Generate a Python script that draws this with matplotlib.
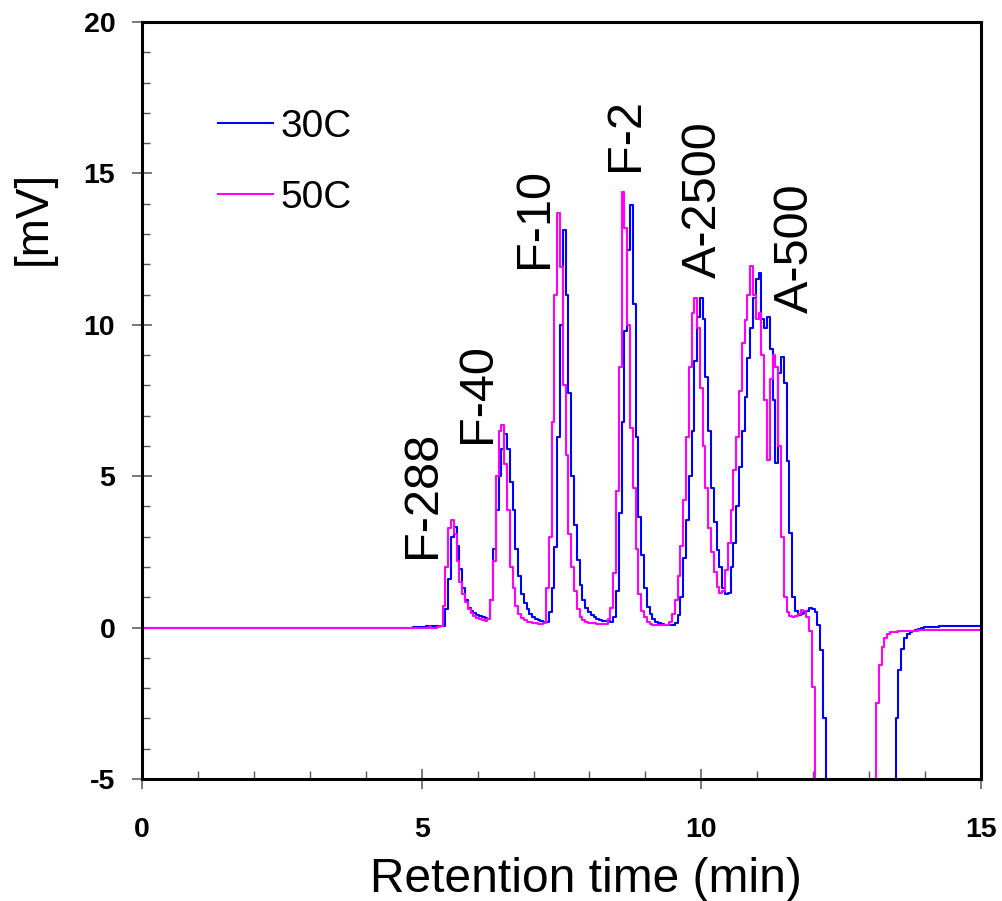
import numpy as np
import matplotlib.pyplot as plt
from matplotlib.ticker import MultipleLocator

plt.rcParams['font.family'] = ['Liberation Sans', 'DejaVu Sans']
plt.rcParams['axes.unicode_minus'] = False

# detector trace, sampled every 0.05 min from 5.00 min (signal in mV)
trace_start = 5.0
sample_step = 0.05

mv_30c = [
    0.03, 0.03, 0.04, 0.03, 0.04, 0.05, 0.05, 0.04, 0.06, 0.6,
    1.6, 3.0, 3.32, 2.7, 1.95, 1.3, 0.9, 0.66, 0.55, 0.47,
    0.41, 0.37, 0.34, 0.32, 0.3, 0.9, 2.6, 3.9, 5.0, 5.9,
    6.4, 5.9, 4.8, 3.9, 2.6, 1.7, 1.1, 0.8, 0.6, 0.45,
    0.36, 0.3, 0.26, 0.22, 0.2, 0.19, 0.5, 1.3, 2.66, 6.3,
    10.0, 13.13, 11.0, 7.75, 5.0, 3.4, 2.23, 1.4, 0.91, 0.65,
    0.5, 0.42, 0.35, 0.3, 0.25, 0.23, 0.22, 0.21, 0.2, 0.35,
    1.2, 3.8, 6.8, 9.8, 12.47, 13.95, 10.7, 6.3, 3.66, 2.4,
    1.3, 0.68, 0.45, 0.3, 0.19, 0.15, 0.12, 0.1, 0.09, 0.09,
    0.1, 0.15, 0.4, 1.0, 2.3, 3.55, 5.0, 6.5, 8.8, 10.26,
    10.88, 10.2, 8.28, 6.5, 4.6, 3.5, 2.56, 2.0, 1.3, 1.1,
    1.15, 2.0, 2.8, 4.0, 5.3, 6.5, 7.6, 8.9, 9.9, 10.9,
    11.5, 11.7, 10.2, 9.9, 10.26, 9.2, 7.5, 5.45, 8.4, 8.93,
    8.07, 5.5, 3.12, 1.0, 0.55, 0.42, 0.44, 0.48, 0.55, 0.64,
    0.62, 0.5, 0.1, -0.74, -3.0, -8, -8, -8, -8, -8,
    -8, -8, -8, -8, -8, -8, -8, -8, -8, -8,
    -8, -8, -8, -8, -8, -8, -8, -8, -8, -6,
    -3.0, -1.4, -0.7, -0.35, -0.2, -0.14, -0.1, -0.07, -0.05, 0.0,
]

mv_50c = [
    -0.01, -0.01, 0.0, 0.01, 0.0, 0.0, 0.01, 0.05, 0.7, 2.0,
    3.3, 3.55, 3.1, 2.2, 1.5, 1.1, 0.85, 0.62, 0.48, 0.38,
    0.32, 0.28, 0.24, 0.22, 0.3, 0.9, 2.2, 5.0, 6.5, 6.7,
    5.4, 3.9, 2.0, 1.3, 0.7, 0.45, 0.33, 0.25, 0.2, 0.18,
    0.16, 0.15, 0.13, 0.12, 0.15, 1.3, 3.0, 6.8, 11.0, 13.7,
    11.9, 8.0, 5.7, 3.1, 2.0, 1.2, 0.6, 0.35, 0.25, 0.19,
    0.16, 0.15, 0.14, 0.13, 0.13, 0.12, 0.12, 0.3, 0.65, 1.8,
    4.5, 8.6, 14.4, 13.2, 10.0, 6.6, 4.6, 2.6, 1.1, 0.55,
    0.35, 0.2, 0.12, 0.09, 0.08, 0.08, 0.08, 0.08, 0.08, 0.2,
    0.45, 0.9, 1.7, 2.7, 4.2, 6.3, 8.6, 10.4, 10.88, 9.9,
    7.9, 6.0, 4.6, 3.3, 2.5, 1.85, 1.35, 1.14, 1.2, 1.9,
    2.8, 3.9, 5.2, 6.3, 7.8, 9.4, 10.16, 11.0, 11.94, 11.0,
    10.2, 10.38, 9.0, 7.5, 5.53, 8.2, 9.0, 8.6, 6.0, 3.0,
    1.0, 0.5, 0.38, 0.35, 0.38, 0.45, 0.58, 0.55, 0.35, -0.1,
    -1.96, -8, -8, -8, -8, -8, -8, -8, -8, -8,
    -8, -8, -8, -8, -8, -8, -8, -8, -8, -8,
    -8, -8, -5.5, -2.5, -1.24, -0.65, -0.35, -0.2, -0.16, -0.14,
    -0.13, -0.12, -0.12, -0.11, -0.1, -0.1, -0.1, -0.1, -0.09, -0.09,
]

# flat baseline before and after the run
lead_t = [0.0, 2.5, 4.7]
lead_30c = [-0.02, -0.01, 0.0]
lead_50c = [-0.02, -0.02, -0.01]
tail_t = [14.0, 14.5, 15.0]
tail_30c = [0.02, 0.05, 0.05]
tail_50c = [-0.08, -0.08, -0.08]

peak_names = ['F-288', 'F-40', 'F-10', 'F-2', 'A-2500', 'A-500']
name_t = [5.02, 5.99, 7.01, 8.64, 10.03, 11.68]
name_mv = [4.40, 7.75, 13.53, 16.27, 14.12, 12.54]

series_names = ['30C', '50C']
series_colors = ['#0000FF', '#FF00FF']

grid_t = trace_start + sample_step * np.arange(len(mv_30c))
t = np.concatenate([lead_t, grid_t, tail_t])
y30 = np.concatenate([lead_30c, mv_30c, tail_30c])
y50 = np.concatenate([lead_50c, mv_50c, tail_50c])

fig = plt.figure(figsize=(10.02, 9.01), dpi=100)
ax = fig.add_axes([0.1417, 0.1354, 0.8373, 0.8402])

for y, name, col in zip([y30, y50], series_names, series_colors):
    ax.plot(t, y, color=col, lw=1.5, drawstyle='steps-mid', label=name)

ax.set_xlim(0, 15)
ax.set_ylim(-5, 20)
ax.xaxis.set_major_locator(MultipleLocator(5))
ax.xaxis.set_minor_locator(MultipleLocator(1))
ax.yaxis.set_major_locator(MultipleLocator(5))
ax.yaxis.set_minor_locator(MultipleLocator(1))

for s in ax.spines.values():
    s.set_linewidth(2.2)
    s.set_color('black')

ax.tick_params(which='major', direction='inout', length=14.5, width=1.1,
               color='#555555', labelsize=20.5)
ax.tick_params(which='minor', direction='in', length=5.5, width=1.0,
               color='#555555')
ax.tick_params(axis='x', which='major', pad=20)
ax.tick_params(axis='y', which='major', pad=12)
for lbl in ax.get_xticklabels() + ax.get_yticklabels():
    lbl.set_fontweight('bold')

ax.set_xlabel('Retention time (min)', fontsize=34.5)
ax.xaxis.set_label_coords(0.529, -0.103)
ax.set_ylabel('[mV]', fontsize=33)
ax.yaxis.set_label_coords(-0.103, 0.741)

for name, x, y in zip(peak_names, name_t, name_mv):
    ax.text(x, y, name, rotation=90, ha='center', va='center', fontsize=35)

ax.legend(loc='upper left', bbox_to_anchor=(0.0906, 0.885), frameon=False,
          fontsize=28, handlelength=1.41, handletextpad=0.2,
          labelspacing=0.9, borderaxespad=0, borderpad=0)

fig.savefig('out.png', dpi=100)
